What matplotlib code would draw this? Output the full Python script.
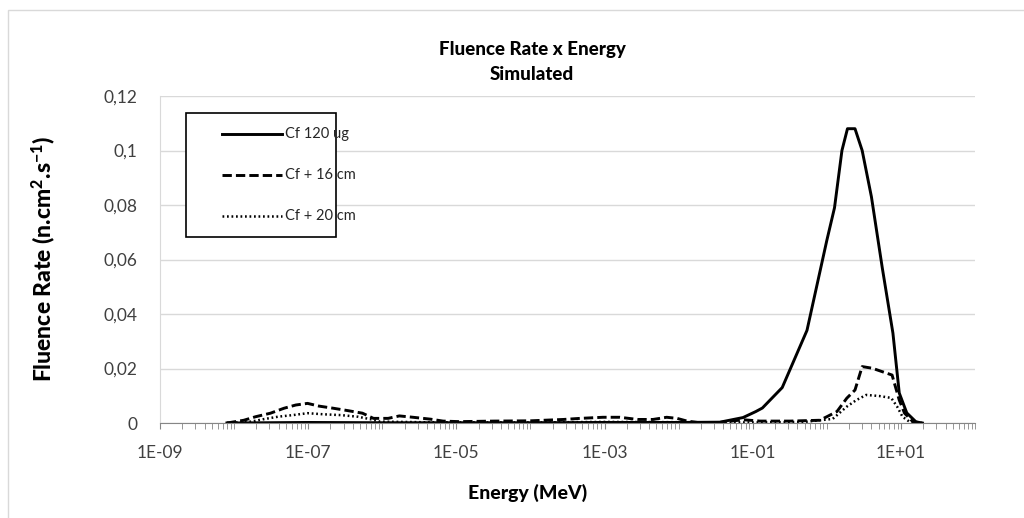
import numpy as np
import matplotlib
matplotlib.use("Agg")
import matplotlib.pyplot as plt
from matplotlib.ticker import FixedLocator, LogLocator, FuncFormatter, NullFormatter
from matplotlib.patches import Rectangle
from matplotlib.lines import Line2D

plt.rcParams['font.family'] = ['Lato', 'DejaVu Sans']
plt.rcParams['mathtext.fontset'] = 'custom'
plt.rcParams['mathtext.rm'] = 'Lato:bold'
plt.rcParams['mathtext.bf'] = 'Lato:black'
plt.rcParams['mathtext.default'] = 'bf'

# energy (MeV) and fluence rate x energy
e_cf120 = [8e-9, 1e-7, 1e-6, 1e-5, 1e-4, 1e-3, 1e-2, 3.6e-2, 7.4e-2, 0.11, 0.135,
           0.25, 0.54, 1.0, 1.27, 1.6, 1.9, 2.4, 3.0, 4.0, 5.6, 7.8, 9.5, 12, 16, 19.5]
v_cf120 = [0, 0.0002, 0.0001, 0.0001, 0.0001, 0.0002, 0.0002, 0.0003, 0.002, 0.0042, 0.0055,
           0.013, 0.034, 0.067, 0.079, 0.100, 0.108, 0.108, 0.100, 0.083, 0.057, 0.033, 0.011,
           0.0037, 0.0004, 0]

e_cf16 = [8e-9, 1.35e-8, 1.95e-8, 3.1e-8, 4.7e-8, 6.8e-8, 9.8e-8, 1.4e-7, 2.2e-7, 3.5e-7,
          5.4e-7, 7.6e-7, 1.2e-6, 1.7e-6, 2.6e-6, 4.5e-6, 6.6e-6, 1.1e-5, 3.2e-5, 1e-4,
          2.8e-4, 4.7e-4, 9.5e-4, 1.6e-3, 2.8e-3, 4.5e-3, 6.9e-3, 9.5e-3, 1.3e-2, 1.8e-2,
          3.6e-2, 7.4e-2, 0.126, 0.32, 0.8, 1.0, 1.37, 1.86, 2.4, 3.0, 4.1, 7.6, 9.5, 11.2,
          14.5, 19.5]
v_cf16 = [0, 0.001, 0.0023, 0.0036, 0.0054, 0.0066, 0.0072, 0.0062, 0.0054, 0.0045,
          0.0036, 0.0017, 0.0017, 0.0026, 0.0021, 0.0014, 0.0007, 0.0005, 0.0007, 0.0008,
          0.0013, 0.0017, 0.0021, 0.0021, 0.0013, 0.0013, 0.0021, 0.0017, 0.0007, 0.0002,
          0.0002, 0.0012, 0.0007, 0.0007, 0.001, 0.0023, 0.0042, 0.0091, 0.0121, 0.0207,
          0.0201, 0.0176, 0.0084, 0.0036, 0.0005, 0]

e_cf20 = [8e-9, 1.7e-8, 2.5e-8, 3.9e-8, 6.2e-8, 9.8e-8, 1.6e-7, 2.75e-7, 4.7e-7, 6.9e-7,
          9.3e-7, 3.2e-6, 1e-4, 1e-3, 1e-2, 0.1, 0.5, 1.2, 1.86, 2.5, 3.4, 5.1, 7.4, 8.9,
          10.5, 13, 19.5]
v_cf20 = [0, 0.0005, 0.0014, 0.0023, 0.0029, 0.0036, 0.0032, 0.0029, 0.0023, 0.0014,
          0.0005, 0.0003, 0.0002, 0.0004, 0.0003, 0.0002, 0.0004, 0.0015, 0.006, 0.0084,
          0.0103, 0.0099, 0.0092, 0.006, 0.0023, 0.0005, 0]

labels = ["Cf 120 ug", "Cf + 16 cm", "Cf + 20 cm"]
styles = ["-", (0, (3.2, 1.4)), (0, (0.7, 1.1))]
widths = [2.1, 2.1, 1.8]

x_major = [1e-9, 1e-7, 1e-5, 1e-3, 1e-1, 1e1]
y_ticks = [0, 0.02, 0.04, 0.06, 0.08, 0.1, 0.12]

fig = plt.figure(figsize=(10.24, 5.18), dpi=100)
fig.patches.append(Rectangle((8 / 1024, -0.1), 1.2, 1 - 10 / 518 + 0.1,
                             transform=fig.transFigure, fill=False,
                             edgecolor='#d9d9d9', lw=1))

ax = fig.add_axes([160 / 1024, 95 / 518, 815 / 1024, 327 / 518])

for e, v, lab, ls, lw in zip([e_cf120, e_cf16, e_cf20], [v_cf120, v_cf16, v_cf20],
                             labels, styles, widths):
    ax.plot(e, v, color='black', linestyle=ls, lw=lw, label=lab,
            solid_joinstyle='round', dash_capstyle='butt')

ax.set_xscale('log')
ax.set_xlim(1e-9, 1e2)
ax.set_ylim(0, 0.12)
ax.xaxis.set_major_locator(FixedLocator(x_major))
ax.xaxis.set_minor_locator(LogLocator(base=10, subs=np.arange(1, 10), numticks=100))
ax.xaxis.set_minor_formatter(NullFormatter())
ax.xaxis.set_major_formatter(FuncFormatter(lambda v, p: "{:.0E}".format(v)))
ax.yaxis.set_major_locator(FixedLocator(y_ticks))
ax.yaxis.set_major_formatter(FuncFormatter(lambda v, p: "{:g}".format(v).replace('.', ',')))

ax.grid(axis='y', color='#d9d9d9', lw=1)
ax.set_axisbelow(True)
for s in ['top', 'right']:
    ax.spines[s].set_visible(False)
ax.spines['left'].set_color('#d9d9d9')
ax.spines['bottom'].set_color('#868686')
ax.tick_params(axis='y', length=0, pad=16, labelsize=12.5, labelcolor='#404040')
ax.tick_params(axis='x', which='both', length=4, color='#868686', direction='out',
               pad=12, labelsize=12.5, labelcolor='#404040')

fig.text(532 / 1024, 1 - 62 / 518, "Fluence Rate x Energy\nSimulated", ha='center',
         va='center', fontsize=13.5, fontweight='black', linespacing=1.55)
fig.text(43 / 1024, 0.5, r"Fluence Rate (n.cm$^{2}$.s$^{-1}$)", rotation=90,
         ha='center', va='center', fontsize=16.5, fontweight='black')
fig.text(528 / 1024, 1 - 493 / 518, "Energy (MeV)", ha='center', va='center',
         fontsize=14, fontweight='black')

# legend box (white, drawn in the axes on top of the gridlines)
leg_top = 1 - 113 / 518
leg_bot = 1 - 237 / 518
ax.add_patch(Rectangle((186 / 1024, leg_bot), 150 / 1024, leg_top - leg_bot,
                       transform=fig.transFigure, facecolor='white', clip_on=False,
                       edgecolor='black', lw=1.2, zorder=5))
for i, (lab, ls, lw) in enumerate(zip(labels, styles, widths)):
    yy = 1 - (134 + 41 * i) / 518
    ax.add_line(Line2D([222 / 1024, 282 / 1024], [yy, yy], transform=fig.transFigure,
                       color='black', linestyle=ls, lw=lw, zorder=6, clip_on=False))
    ax.text(285 / 1024, yy, lab, transform=fig.transFigure, ha='left', va='center',
            fontsize=10.5, color='#262626', zorder=7)

fig.savefig("out.png", dpi=100)
